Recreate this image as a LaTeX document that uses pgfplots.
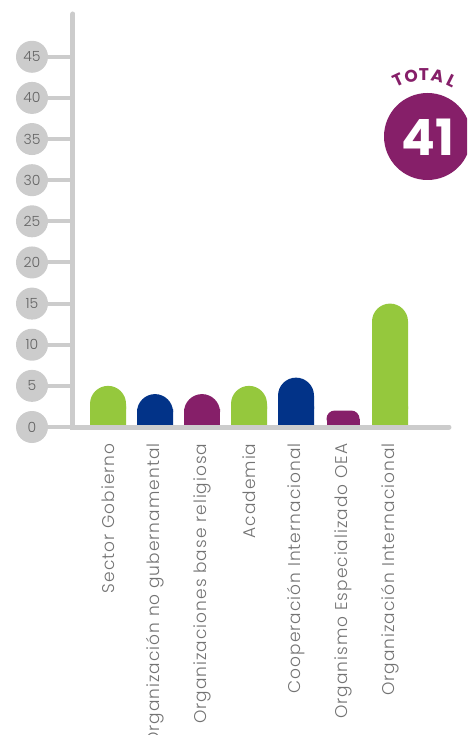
\documentclass[border=0pt]{standalone}
\usepackage{fontspec}
\usepackage{pgfplots}
\usepackage{pgfplotstable}
\pgfplotsset{compat=1.18}
\setmainfont{Poppins}
\IfFontExistsTF{Poppins Light}{%
  \newfontfamily\lightfont{Poppins Light}%
  \newfontfamily\labfont{Poppins Light}[LetterSpace=6]}{%
  \newfontfamily\lightfont{Poppins}%
  \newfontfamily\labfont{Poppins}[LetterSpace=6]}
\definecolor{cgreen}{RGB}{149,200,61}
\definecolor{cblue}{RGB}{2,51,136}
\definecolor{cpurple}{RGB}{134,31,105}
\definecolor{linegray}{RGB}{204,204,204}
\definecolor{numgray}{RGB}{100,100,100}
\definecolor{labgray}{RGB}{115,115,115}
\pgfplotstableread{
x v
0 5
3 5
6 15
}\greendata
\pgfplotstableread{
x v
1 4
4 6
}\bluedata
\pgfplotstableread{
x v
2 4
}\purpledata
\pgfplotstableread{
x v
5 2
}\purplesmall
\begin{document}
\begin{tikzpicture}
\useasboundingbox (-73pt,-308pt) rectangle (394pt,427pt);
\clip (-73pt,-308pt) rectangle (394pt,427pt);
\begin{axis}[
  at={(0pt,0pt)}, anchor=south west,
  scale only axis, width=376pt, height=413pt,
  xmin=-0.745, xmax=7.255, ymin=0, ymax=50.2,
  axis x line=bottom, axis y line=left,
  axis line style={draw=none},
  clip=false,
  xtick={0,...,6},
  xticklabels={Sector Gobierno,Organización no gubernamental,Organizaciones base religiosa,Academia,Cooperación Internacional,Organismo Especializado OEA,Organización Internacional},
  xticklabel style={rotate=90, anchor=east, text=labgray, font=\labfont\fontsize{17}{17}\selectfont},
  xticklabel shift=-12pt,
  xtick style={draw=none},
  ytick={0,5,...,45},
  tick align=outside,
  major tick length=25pt,
  ytick style={line width=4pt, color=linegray},
  /pgf/number format/assume math mode=true,
  yticklabel style={circle, fill=linegray, text=numgray, minimum size=32pt, inner sep=0pt, anchor=center, xshift=-16pt, font=\lightfont\fontsize{14}{14}\selectfont},
]
\addplot[ybar, bar width=36pt, bar shift=0pt, fill=cgreen, draw=none, rounded corners=18pt] table[x=x,y=v]{\greendata};
\addplot[ybar, bar width=36pt, bar shift=0pt, fill=cgreen, draw=none] table[x=x,y expr={min(\thisrow{v}/2,2.5)}]{\greendata};
\addplot[ybar, bar width=36pt, bar shift=0pt, fill=cblue, draw=none, rounded corners=18pt] table[x=x,y=v]{\bluedata};
\addplot[ybar, bar width=36pt, bar shift=0pt, fill=cblue, draw=none] table[x=x,y expr={min(\thisrow{v}/2,2.5)}]{\bluedata};
\addplot[ybar, bar width=36pt, bar shift=0pt, fill=cpurple, draw=none, rounded corners=18pt] table[x=x,y=v]{\purpledata};
\addplot[ybar, bar width=36pt, bar shift=0pt, fill=cpurple, draw=none] table[x=x,y expr={min(\thisrow{v}/2,2.5)}]{\purpledata};
\addplot[ybar, bar width=33pt, bar shift=0pt, fill=cpurple, draw=none, rounded corners=8.2pt] table[x=x,y=v]{\purplesmall};
\addplot[ybar, bar width=33pt, bar shift=0pt, fill=cpurple, draw=none] table[x=x,y expr={\thisrow{v}/2}]{\purplesmall};
\draw[linegray, line width=5pt, line cap=round, line join=miter] (rel axis cs:0,1) -- (rel axis cs:0,0) -- (rel axis cs:1,0);
\end{axis}
\fill[cpurple] (354.5pt,290.5pt) circle[radius=43.5pt];
\node[text=white, font=\bfseries\fontsize{50}{50}\selectfont, inner sep=0pt] at (355pt,289.5pt) {41};
\begin{scope}[shift={(351pt,290.5pt)}]
\foreach \ch/\a in {T/115,O/102,T/90,A/77.5,L/63.5}{
  \node[text=cpurple, font=\bfseries\fontsize{17}{17}\selectfont, inner sep=0pt, anchor=base, rotate=\a-90] at (\a:56pt) {\ch};
}
\end{scope}
\end{tikzpicture}
\end{document}
